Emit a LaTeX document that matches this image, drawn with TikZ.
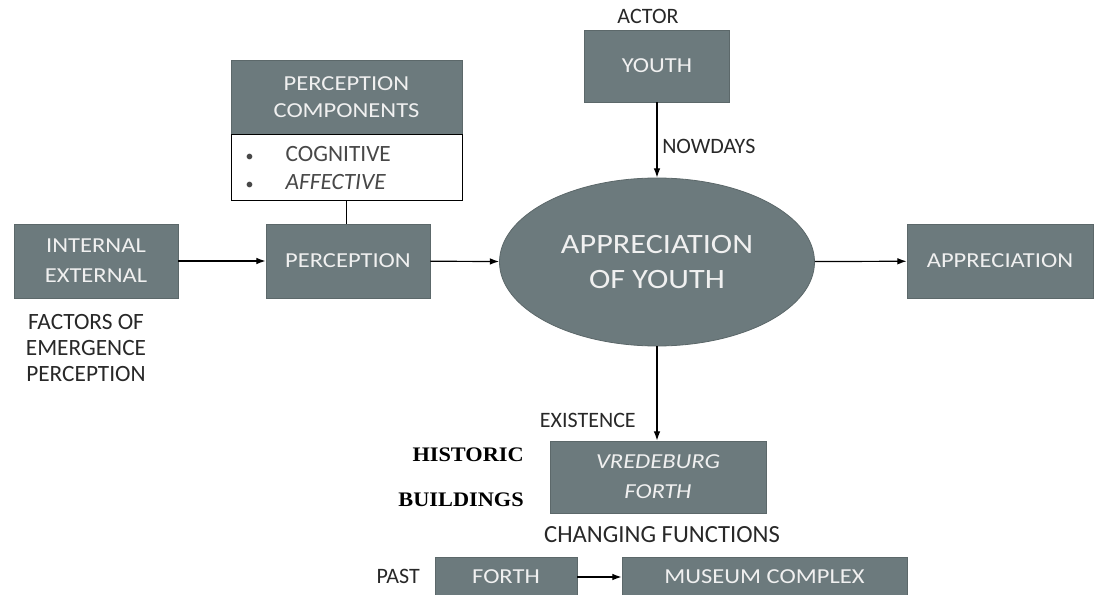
\documentclass[tikz,border=0pt]{standalone}
\usepackage{fontspec}
\setmainfont{Carlito}
\newfontfamily\boxfont[FakeStretch=1.15]{Carlito}
\newfontfamily\boldserif[FakeStretch=1.08]{Liberation Serif}
\usetikzlibrary{shapes.geometric, arrows.meta, positioning}
\definecolor{slate}{RGB}{108,122,125}
\definecolor{ink}{RGB}{40,40,40}
\newcommand{\dotitem}{{\fontsize{12}{12}\selectfont\textbullet}\hspace{24pt}}

\begin{document}
\begin{tikzpicture}[x=0.75pt, y=-0.75pt,
  box/.style={draw=slate!85!black, fill=slate, text=white!94!black, align=center,
    inner sep=0pt, line width=0.6pt, font=\boxfont\fontsize{16}{22.5}\selectfont},
  note/.style={font=\fontsize{17.5}{19.5}\selectfont, text=ink, inner sep=0pt, align=center},
  small/.style={font=\fontsize{16.5}{18}\selectfont, text=ink, inner sep=0pt},
  serifbold/.style={font=\boldserif\bfseries\fontsize{15.5}{17}\selectfont, inner sep=0pt, anchor=east},
  flow/.style={-{Latex[length=7pt,width=5pt]}, line width=0.9pt},
]
\useasboundingbox (0,0) rectangle (1104,595);

% Left chain
\node[box, minimum width=123pt, minimum height=55.5pt] (factor) at (96,261) {INTERNAL\\EXTERNAL};
\node[note] (factorlbl) at (86,348) {FACTORS OF\\EMERGENCE\\PERCEPTION};
\node[box, minimum width=123pt, minimum height=55.5pt] (perc) at (348,261) {PERCEPTION};

% Perception components
\node[box, minimum width=173.25pt, minimum height=55.5pt,
  font=\boxfont\fontsize{16}{20}\selectfont] (comphead) at (346.5,97) {PERCEPTION\\COMPONENTS};
\node[draw=black, fill=white, line width=0.6pt, minimum width=173.25pt, minimum height=49.5pt,
  inner xsep=11pt, inner ysep=0pt, text width=151.25pt, align=left, text=ink!85!white,
  font=\fontsize{17.5}{21}\selectfont, below=0pt of comphead] (complist)
  {\dotitem COGNITIVE\\\dotitem\textit{AFFECTIVE}};
\draw[line width=0.9pt] (complist.south) -- (complist.south |- perc.north);

% Centre
\node[box, ellipse, minimum width=236.25pt, minimum height=126pt,
  font=\boxfont\fontsize{21}{26}\selectfont] (appyouth) at (657,262) {APPRECIATION\\OF YOUTH};
\node[box, minimum width=139.5pt, minimum height=55.5pt] (appr) at (1000,261) {APPRECIATION};

% Actor on top
\node[box, minimum width=108.75pt, minimum height=54pt] (youth) at (657,66) {YOUTH};
\node[small] (actor) at (648,16) {ACTOR};
\node[small, anchor=west] (nowdays) at (662,146) {NOWDAYS};

% Historic building below
\node[box, minimum width=162pt, minimum height=54pt] (vred) at (658,477) {\textit{VREDEBURG}\\\textit{FORTH}};
\node[small, anchor=east] (exist) at (636,420) {EXISTENCE};
\node[serifbold] (hist) at (524,455) {HISTORIC};
\node[serifbold] (build) at (524,500) {BUILDINGS};
\node[note, font=\fontsize{18.5}{20}\selectfont] (change) at (662,535) {CHANGING FUNCTIONS};

% Function change
\node[box, minimum width=106.5pt, minimum height=30pt] (forth) at (506,577) {FORTH};
\node[box, minimum width=213.75pt, minimum height=30pt] (museum) at (764.5,577) {MUSEUM COMPLEX};
\node[small, anchor=east] (past) at (420,576) {PAST};

% Connectors
\draw[flow] (factor) -- (perc);
\draw[flow] (perc) -- (appyouth);
\draw[flow] (appyouth) -- (appr);
\draw[flow] (youth.south) -- (youth.south |- appyouth.north);
\draw[flow] (appyouth.south) -- (appyouth.south |- vred.north);
\draw[flow] (forth) -- (museum);
\end{tikzpicture}
\end{document}
